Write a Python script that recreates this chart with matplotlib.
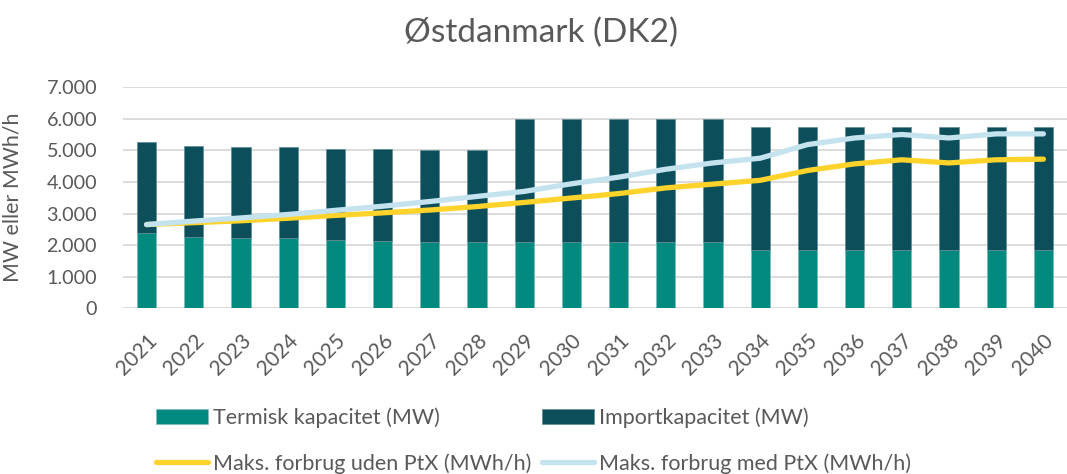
import matplotlib
matplotlib.use("Agg")
import matplotlib.pyplot as plt
from matplotlib.ticker import FuncFormatter
import numpy as np

plt.rcParams['font.family'] = ['Lato', 'DejaVu Sans']

years = [str(y) for y in range(2021, 2041)]
termisk = [2370, 2270, 2240, 2210, 2150, 2140, 2110, 2110, 2110, 2110,
           2110, 2090, 2090, 1840, 1840, 1840, 1840, 1840, 1840, 1840]
total_bar = [5250, 5150, 5120, 5110, 5030, 5030, 5000, 5000, 6000, 6000,
             6000, 5980, 5980, 5730, 5730, 5730, 5730, 5730, 5730, 5730]
importkap = [t - s for t, s in zip(total_bar, termisk)]
uden_ptx = [2650, 2710, 2770, 2850, 2940, 3020, 3110, 3220, 3350, 3490,
            3630, 3810, 3930, 4050, 4360, 4570, 4700, 4600, 4700, 4720]
med_ptx = [2650, 2760, 2860, 2970, 3100, 3230, 3380, 3540, 3700, 3940,
           4150, 4400, 4600, 4750, 5180, 5390, 5500, 5390, 5520, 5520]

c_term = '#00897F'
c_imp = '#0C4F5B'
c_yel = '#FFD32A'
c_blue = '#C4E3EF'
c_text = '#595959'

fig = plt.figure(figsize=(10.67, 4.74), dpi=100)
ax = fig.add_axes([123/1067, 1-308.3/474, 944/1067, 221.2/474])

x = np.arange(len(years))
w = 0.41
b1 = ax.bar(x, termisk, width=w, color=c_term, edgecolor='#7fbdbb', linewidth=0.5,
            label='Termisk kapacitet (MW)', zorder=2)
b2 = ax.bar(x, importkap, bottom=termisk, width=w, color=c_imp, edgecolor='#5f8c94',
            linewidth=0.5, label='Importkapacitet (MW)', zorder=2)
l1, = ax.plot(x, uden_ptx, color=c_yel, lw=3.8, solid_capstyle='round',
              solid_joinstyle='round', label='Maks. forbrug uden PtX (MWh/h)', zorder=3)
l2, = ax.plot(x, med_ptx, color=c_blue, lw=3.8, solid_capstyle='round',
              solid_joinstyle='round', label='Maks. forbrug med PtX (MWh/h)', zorder=4)

ax.set_xlim(-0.5, len(years) - 0.5)
ax.set_ylim(0, 7000)
ax.set_yticks(range(0, 7001, 1000))
ax.yaxis.set_major_formatter(FuncFormatter(lambda v, p: f"{int(v):,}".replace(',', '.')))
ax.grid(axis='y', color='#D9D9D9', lw=1.3, zorder=0)
ax.set_axisbelow(True)
for s in ax.spines.values():
    s.set_visible(False)
ax.tick_params(axis='both', length=0, colors=c_text, labelsize=15)
ax.tick_params(axis='y', labelsize=14.2, pad=18.7)
ax.set_xticks(x)
ax.set_xticklabels(years, rotation=45, ha='right', rotation_mode='anchor')
ax.tick_params(axis='x', pad=16)
ax.set_ylabel('MW eller MWh/h', fontsize=15.4, color=c_text)
ax.yaxis.set_label_coords(-(123 - 23) / 944, 0.5)

fig.text(541/1067, 1-33/474, 'Østdanmark (DK2)', ha='center', va='center',
         fontsize=24, color=c_text)

hs = [b1, l1, b2, l2]
ls = [h.get_label() for h in hs]
leg = fig.legend(hs, ls, ncol=2, loc='upper left',
                 bbox_to_anchor=(156/1067, 1-407/474),
                 frameon=False, fontsize=15.5, handlelength=2.42, handletextpad=0.25,
                 columnspacing=0.45, labelspacing=1.18, labelcolor=c_text,
                 borderpad=0, borderaxespad=0)

fig.savefig('out.png', dpi=100)
